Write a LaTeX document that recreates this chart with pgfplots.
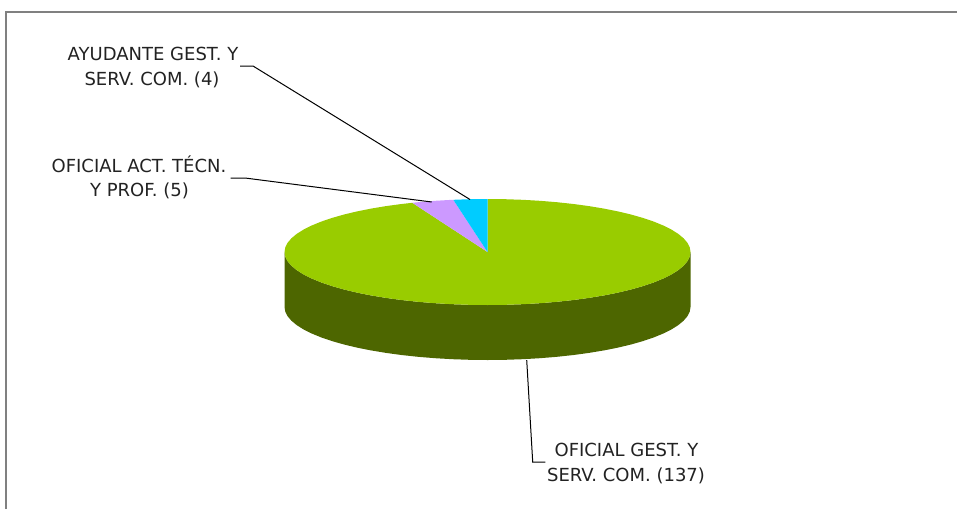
\documentclass[border=0pt]{standalone}
\usepackage{pgfplots}
\pgfplotsset{compat=1.18}
\usepackage{fontspec}
\setmainfont{DejaVu Sans}
\definecolor{pgreen}{HTML}{99CC00}
\definecolor{pdark}{HTML}{4D6600}
\definecolor{ppurple}{HTML}{CC99FF}
\definecolor{pblue}{HTML}{00CCFF}
\definecolor{frame}{HTML}{808080}
\definecolor{txt}{HTML}{222222}
\begin{document}
\begin{tikzpicture}
\path[use as bounding box] (0,0) rectangle (957pt,509pt);
\begin{axis}[at={(0,0)},anchor=south west,scale only axis,width=957pt,height=509pt,
  xmin=0,xmax=957,ymin=0,ymax=509,y dir=reverse,hide axis,clip=true,
  nodes={font=\fontsize{18pt}{21pt}\selectfont,text=txt,inner sep=0pt,anchor=base}]
% frame
\addplot[frame,line width=2pt,forget plot] coordinates {(6,509)(6,12)(957,12)};
% side wall
\addplot[fill=pdark,draw=none,forget plot] coordinates {
(284.5,252)(285.27,256.62)(287.58,261.20)(291.42,265.72)(296.74,270.13)(303.52,274.40)(311.70,278.50)(321.21,282.40)(331.99,286.07)(343.96,289.48)(357.01,292.60)(371.06,295.41)(386.0,297.90)(401.71,300.03)(418.07,301.80)(434.96,303.19)(452.25,304.19)(469.81,304.80)(487.5,305)
(505.19,304.80)(522.75,304.19)(540.04,303.19)(556.93,301.80)(573.29,300.03)(589.0,297.90)(603.94,295.41)(617.99,292.60)(631.04,289.48)(643.01,286.07)(653.79,282.40)(663.30,278.50)(671.48,274.40)(678.26,270.13)(683.58,265.72)(687.42,261.20)(689.73,256.62)(690.5,252)
(690.5,307)(689.73,311.62)(687.42,316.20)(683.58,320.72)(678.26,325.13)(671.48,329.40)(663.30,333.50)(653.79,337.40)(643.01,341.07)(631.04,344.48)(617.99,347.60)(603.94,350.41)(589.0,352.90)(573.29,355.03)(556.93,356.80)(540.04,358.19)(522.75,359.19)(505.19,359.80)(487.5,360)
(469.81,359.80)(452.25,359.19)(434.96,358.19)(418.07,356.80)(401.71,355.03)(386.0,352.90)(371.06,350.41)(357.01,347.60)(343.96,344.48)(331.99,341.07)(321.21,337.40)(311.70,333.50)(303.52,329.40)(296.74,325.13)(291.42,320.72)(287.58,316.20)(285.27,311.62)(284.5,307)
} -- cycle;
% green slice (137)
\addplot[fill=pgreen,draw=none,forget plot] coordinates {
(487.5,252)(487.5,199)(505.19,199.20)(522.75,199.81)(540.04,200.81)(556.93,202.20)(573.29,203.97)(589.0,206.10)(603.94,208.59)(617.99,211.40)(631.04,214.52)(643.01,217.93)(653.79,221.60)(663.30,225.50)(671.48,229.60)(678.26,233.87)(683.58,238.28)(687.42,242.80)(689.73,247.38)(690.5,252)
(689.73,256.62)(687.42,261.20)(683.58,265.72)(678.26,270.13)(671.48,274.40)(663.30,278.50)(653.79,282.40)(643.01,286.07)(631.04,289.48)(617.99,292.60)(603.94,295.41)(589.0,297.90)(573.29,300.03)(556.93,301.80)(540.04,303.19)(522.75,304.19)(505.19,304.80)(487.5,305)
(469.81,304.80)(452.25,304.19)(434.96,303.19)(418.07,301.80)(401.71,300.03)(386.0,297.90)(371.06,295.41)(357.01,292.60)(343.96,289.48)(331.99,286.07)(321.21,282.40)(311.70,278.50)(303.52,274.40)(296.74,270.13)(291.42,265.72)(287.58,261.20)(285.27,256.62)(284.5,252)
(285.27,247.38)(287.58,242.80)(291.42,238.28)(296.74,233.87)(303.52,229.60)(311.70,225.50)(321.21,221.60)(331.99,217.93)(343.96,214.52)(357.01,211.40)(371.06,208.59)(386.0,206.10)(401.71,203.97)(412.3,202.8)
} -- cycle;
% purple slice (5)
\addplot[fill=ppurple,draw=none,forget plot] coordinates {
(487.5,252)(412.3,202.8)(418.07,202.20)(434.96,200.81)(452.25,199.81)(453.3,199.8)
} -- cycle;
% blue slice (4)
\addplot[fill=pblue,draw=none,forget plot] coordinates {
(487.5,252)(453.3,199.8)(469.81,199.20)(487.5,199)
} -- cycle;
% leader lines
\addplot[black,line width=1pt,forget plot] coordinates {(240,66)(253,66)(470,199.5)};
\addplot[black,line width=1pt,forget plot] coordinates {(230.5,178)(245,178)(431.7,202)};
\addplot[black,line width=1pt,forget plot] coordinates {(526.7,360)(532.7,462)(545.3,462)};
% labels
\node at (axis cs:153,60) {AYUDANTE GEST. Y};
\node at (axis cs:152,85) {SERV. COM. (4)};
\node at (axis cs:139,172) {OFICIAL ACT. TÉCN.};
\node at (axis cs:139.5,196) {Y PROF. (5)};
\node at (axis cs:626.5,456) {OFICIAL GEST. Y};
\node at (axis cs:626,481) {SERV. COM. (137)};
\end{axis}
\end{tikzpicture}
\end{document}
